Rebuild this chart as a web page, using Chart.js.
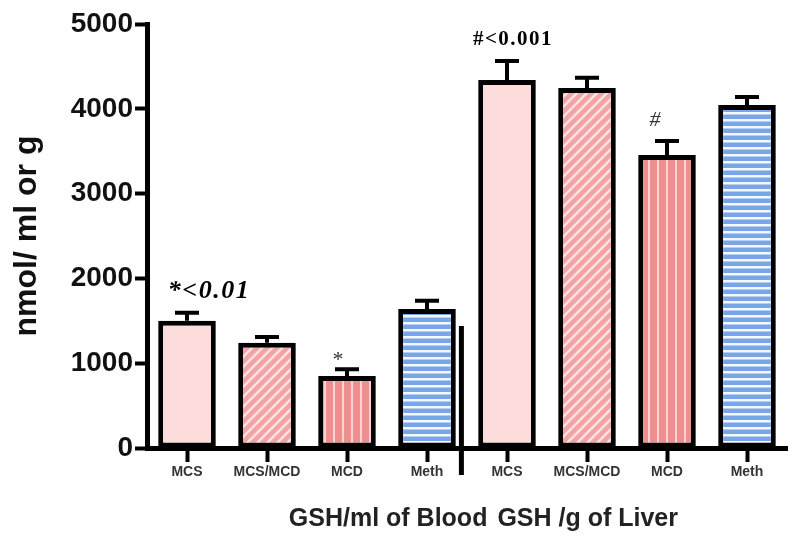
<!DOCTYPE html>
<html>
<head>
<meta charset="utf-8">
<script src="https://cdn.jsdelivr.net/npm/chart.js@4.4.1/dist/chart.umd.min.js"></script>
<style>
  html, body { margin: 0; padding: 0; background: #fff; }
  #wrap { width: 800px; height: 543px; }
</style>
</head>
<body>
<div id="wrap"><canvas id="chart"></canvas></div>
<script>
// values
const categories = ['MCS', 'MCS/MCD', 'MCD', 'Meth', 'MCS', 'MCS/MCD', 'MCD', 'Meth'];
const groupTitles = ['GSH/ml of Blood', 'GSH /g of Liver'];
const means = [1500, 1240, 850, 1640, 4340, 4245, 3455, 4045];
const errors = [95, 70, 80, 95, 225, 120, 165, 95];
const marks = ['*<0.01', '', '*', '', '#<0.001', '', '#', ''];
const yTicks = [0, 1000, 2000, 3000, 4000, 5000];
const separatorTop = 1440;

function makePattern(kind) {
  const c = document.createElement('canvas');
  const ctx = c.getContext('2d');
  if (kind === 'diag') {
    c.width = 10; c.height = 10;
    ctx.fillStyle = '#f3a2a8';
    ctx.fillRect(0, 0, 10, 10);
    ctx.strokeStyle = '#fde3e0';
    ctx.lineWidth = 2.5;
    ctx.beginPath();
    for (let k = -1; k <= 1; k++) {
      ctx.moveTo(k * 10 - 1, 11);
      ctx.lineTo(k * 10 + 11, -1);
    }
    ctx.stroke();
  } else if (kind === 'vert') {
    c.width = 9; c.height = 4;
    ctx.fillStyle = '#ef8e8f';
    ctx.fillRect(0, 0, 9, 4);
    ctx.fillStyle = '#fcd3d3';
    ctx.fillRect(0, 0, 2, 4);
  } else {
    c.width = 4; c.height = 7;
    ctx.fillStyle = '#79a6e9';
    ctx.fillRect(0, 0, 4, 7);
    ctx.fillStyle = '#f4f8ff';
    ctx.fillRect(0, 0, 4, 2.5);
  }
  return ctx.createPattern(c, 'repeat');
}

const fills = ['#fddcdc', makePattern('diag'), makePattern('vert'), makePattern('horiz')];
const barColors = categories.map((c, i) => fills[i % 4]);

const extras = {
  id: 'extras',
  afterDatasetsDraw(chart) {
    const ctx = chart.ctx;
    const x = chart.scales.x;
    const y = chart.scales.y;
    const meta = chart.getDatasetMeta(0);
    ctx.save();
    ctx.strokeStyle = '#000';
    ctx.fillStyle = '#000';
    // error bars
    means.forEach((m, i) => {
      const cx = meta.data[i].x;
      const y0 = y.getPixelForValue(m);
      const y1 = y.getPixelForValue(m + errors[i]);
      ctx.lineWidth = 4;
      ctx.beginPath();
      ctx.moveTo(cx, y0);
      ctx.lineTo(cx, y1);
      ctx.moveTo(cx - 12, y1);
      ctx.lineTo(cx + 12, y1);
      ctx.stroke();
      // significance marks
      if (!marks[i]) return;
      ctx.textAlign = 'center';
      ctx.textBaseline = 'bottom';
      if (marks[i][0] === '#' && marks[i].length > 1) {
        ctx.font = 'bold 21px "Liberation Serif"';
        ctx.letterSpacing = '1.5px';
        ctx.fillText(marks[i], cx + 6, y1 - 11);
      } else if (marks[i].length > 1) {
        ctx.font = 'bold italic 26px "Liberation Serif"';
        ctx.letterSpacing = '1.5px';
        ctx.fillText(marks[i], cx + 22, y1 - 8);
      } else {
        ctx.letterSpacing = '0px';
        ctx.font = 'italic 22px "Liberation Serif"';
        ctx.fillStyle = '#333';
        if (marks[i] === '#') ctx.fillText(marks[i], cx - 12, y1 - 10);
        else ctx.fillText(marks[i], cx - 10, y1 + 2);
        ctx.fillStyle = '#000';
      }
    });
    ctx.letterSpacing = '0px';
    // group separator
    const sx = x.getPixelForValue(3.43);
    ctx.lineWidth = 5;
    ctx.beginPath();
    ctx.moveTo(sx, y.getPixelForValue(separatorTop));
    ctx.lineTo(sx, y.bottom + 27);
    ctx.stroke();
    // group titles
    ctx.font = 'bold 25px "Liberation Sans"';
    ctx.fillStyle = '#222';
    ctx.textBaseline = 'alphabetic';
    ctx.textAlign = 'right';
    ctx.fillText(groupTitles[0], sx + 26, y.bottom + 78);
    ctx.textAlign = 'left';
    ctx.fillText(groupTitles[1], sx + 36, y.bottom + 78);
    ctx.restore();
  }
};

new Chart(document.getElementById('chart'), {
  type: 'bar',
  data: {
    labels: categories,
    datasets: [{
      data: means,
      backgroundColor: barColors,
      borderColor: '#000',
      borderWidth: 5,
      borderSkipped: false,
      barPercentage: 0.72,
      categoryPercentage: 1
    }]
  },
  options: {
    responsive: true,
    maintainAspectRatio: false,
    animation: false,
    layout: { padding: { top: 24, right: 13, bottom: 0, left: 8 } },
    plugins: { legend: { display: false }, tooltip: { enabled: false } },
    scales: {
      x: {
        afterFit(s) { s.height = 95; },
        grid: { drawOnChartArea: false, offset: false, tickLength: 14, tickWidth: 4, tickColor: '#000' },
        border: { color: '#000', width: 5 },
        ticks: { color: '#333', font: { family: 'Liberation Sans', size: 14, weight: 'bold' }, padding: 2, maxRotation: 0, autoSkip: false }
      },
      y: {
        min: 0,
        max: 5000,
        afterFit(s) { s.width = 139; },
        afterBuildTicks(s) { s.ticks = yTicks.map(v => ({ value: v })); },
        grid: { drawOnChartArea: false, tickLength: 12, tickWidth: 4, tickColor: '#000' },
        border: { color: '#000', width: 5 },
        ticks: { color: '#111', font: { family: 'Liberation Sans', size: 28, weight: 'bold' }, padding: 2, callback: v => String(v) },
        title: { display: true, text: 'nmol/ ml or g', color: '#111', font: { family: 'Liberation Sans', size: 32, weight: 'bold' }, padding: 0 }
      }
    }
  },
  plugins: [extras]
});
</script>
</body>
</html>
